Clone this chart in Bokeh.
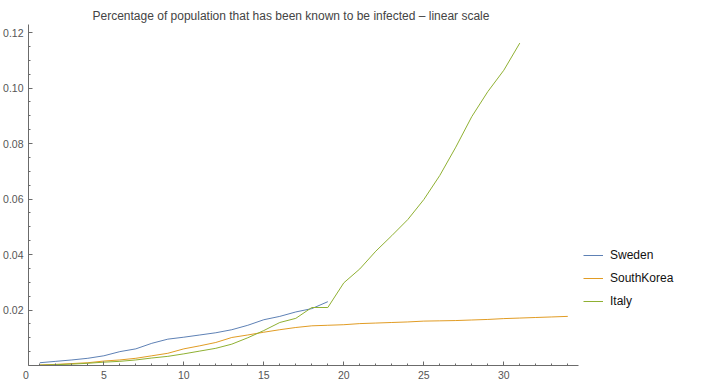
from bokeh.plotting import figure
from bokeh.models import Range1d, FixedTicker, Legend, LegendItem
from bokeh.embed import file_html
from bokeh.resources import INLINE

# ---- data ----
sweden_days = list(range(1, 20))
sweden = [0.0010, 0.0015, 0.0020, 0.0026, 0.0035, 0.0050, 0.0060, 0.0080, 0.0095, 0.0102,
          0.0110, 0.0118, 0.0129, 0.0145, 0.0165, 0.0177, 0.0193, 0.0205, 0.0230]

korea_days = list(range(1, 35))
korea = [0.0002, 0.0004, 0.0007, 0.0010, 0.0016, 0.0020, 0.0026, 0.0035, 0.0044, 0.0060,
         0.0071, 0.0083, 0.0101, 0.0110, 0.0120, 0.0129, 0.0137, 0.0143, 0.0145, 0.0147,
         0.0151, 0.0153, 0.0155, 0.0157, 0.0160, 0.0161, 0.0162, 0.0164, 0.0166, 0.0169,
         0.0171, 0.0173, 0.0175, 0.0177]

italy_days = list(range(1, 32))
italy = [0.0001, 0.0003, 0.0005, 0.0008, 0.0012, 0.0015, 0.0020, 0.0027, 0.0033, 0.0042,
         0.0052, 0.0062, 0.0077, 0.0100, 0.0126, 0.0155, 0.0170, 0.0209, 0.0209, 0.0298,
         0.0348, 0.0412, 0.0468, 0.0526, 0.0598, 0.0685, 0.0787, 0.0897, 0.0987, 0.1064,
         0.1162]

series_names = ["Sweden", "SouthKorea", "Italy"]
series_colors = ["#5E81B5", "#E19C24", "#8FB032"]

x_major = [5, 10, 15, 20, 25, 30]
x_minor = [d for d in range(1, 35) if d not in x_major]
y_major = [0.02, 0.04, 0.06, 0.08, 0.10, 0.12]
y_labels = ["0.02", "0.04", "0.06", "0.08", "0.10", "0.12"]
y_minor = [0.005 * k for k in range(1, 25) if k % 4 != 0]
origin_label = "0"

title_text = "Percentage of population that has been known to be infected \u2013 linear scale"

FONT = "Liberation Sans"
AXIS_GREY = "#6b6b6b"
LABEL_GREY = "#555555"

x_start, x_end = 0.29, 34.67
p = figure(frame_width=550, frame_height=341, output_backend="svg", toolbar_location=None,
           x_range=Range1d(x_start, x_end), y_range=Range1d(0, 0.1229),
           min_border_left=22, min_border_right=124, min_border_top=24, min_border_bottom=17)

p.title.text = title_text
p.title.text_font = FONT
p.title.text_font_size = "12px"
p.title.text_font_style = "normal"
p.title.text_color = "#444444"
p.title.align = "left"
p.title.offset = 64
p.title.standoff = 4

p.outline_line_color = None
p.xgrid.visible = False
p.ygrid.visible = False

for ax in (p.xaxis[0], p.yaxis[0]):
    ax.axis_line_color = AXIS_GREY
    ax.major_tick_line_color = AXIS_GREY
    ax.minor_tick_line_color = AXIS_GREY
    ax.major_tick_in = 4
    ax.major_tick_out = 0
    ax.minor_tick_in = 2
    ax.minor_tick_out = 0
    ax.major_label_text_font = FONT
    ax.major_label_text_font_size = "10.5px"
    ax.major_label_text_color = LABEL_GREY

# the shared origin label "0" sits just left of the axes corner
p.xaxis[0].ticker = FixedTicker(ticks=[x_start] + x_major, minor_ticks=x_minor)
p.xaxis[0].major_label_overrides = {x_start: origin_label + "\u00a0\u2009"}
p.xaxis[0].major_label_standoff = 3
p.yaxis[0].ticker = FixedTicker(ticks=y_major, minor_ticks=y_minor)
p.yaxis[0].major_label_overrides = {t: l for t, l in zip(y_major, y_labels)}
p.yaxis[0].major_label_standoff = 5

renderers = []
for xs, ys, c in [(sweden_days, sweden, series_colors[0]),
                  (korea_days, korea, series_colors[1]),
                  (italy_days, italy, series_colors[2])]:
    renderers.append(p.line(xs, ys, line_color=c, line_width=1.0))

legend = Legend(items=[LegendItem(label=n, renderers=[r]) for n, r in zip(series_names, renderers)],
                location=(5, 54), orientation="vertical",
                glyph_width=20, glyph_height=20, label_height=20, spacing=3,
                label_standoff=7, padding=0, margin=0,
                border_line_alpha=0, background_fill_alpha=0,
                label_text_font=FONT, label_text_font_size="12px", label_text_color="#111111")
p.add_layout(legend, "right")

open("out.html", "w").write(file_html(p, INLINE))
